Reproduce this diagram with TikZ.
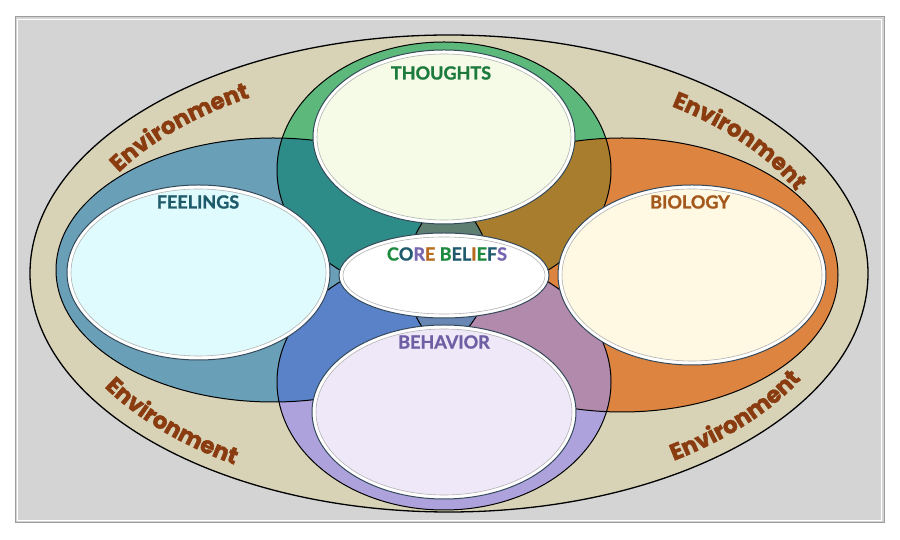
\documentclass[tikz,border=0pt]{standalone}
\usepackage{fontspec}
\usetikzlibrary{decorations.text}
\newfontfamily\labfont{Lato}[BoldFeatures={FakeBold=1.2}]
\newfontfamily\envfont{Poppins}[BoldFeatures={FakeBold=2}]
\definecolor{framefill}{HTML}{D4D4D4}
\definecolor{frameline}{HTML}{9C9C9C}
\definecolor{tan}{HTML}{D8D3B6}
\definecolor{cgreen}{HTML}{5DB97B}
\definecolor{csteel}{HTML}{6A9FB8}
\definecolor{corange}{HTML}{DC8440}
\definecolor{clav}{HTML}{AEA2DC}
\definecolor{cteal}{HTML}{2E8C88}
\definecolor{cbrown}{HTML}{A87D2E}
\definecolor{cblue}{HTML}{5A82C9}
\definecolor{cmauve}{HTML}{B18AAC}
\definecolor{ctop}{HTML}{5F7E72}
\definecolor{cbot}{HTML}{6887B5}
\definecolor{cmid}{HTML}{7D8E88}
\definecolor{innerline}{HTML}{34495A}
\definecolor{fthought}{HTML}{F5FBE6}
\definecolor{ffeel}{HTML}{E0FBFD}
\definecolor{fbio}{HTML}{FFF8E2}
\definecolor{fbeh}{HTML}{EFE8F8}
\definecolor{tthought}{HTML}{1B7A3C}
\definecolor{tfeel}{HTML}{1E5A6A}
\definecolor{tbio}{HTML}{A4581C}
\definecolor{tbeh}{HTML}{6D5FA3}
\definecolor{envc}{HTML}{8A3C10}
\definecolor{kg}{HTML}{1E8A3E}
\definecolor{kt}{HTML}{1F5A6E}
\definecolor{kp}{HTML}{7766B0}
\definecolor{ko}{HTML}{B86A1E}
\begin{document}
\begin{tikzpicture}[x=1pt,y=1pt,
  region/.style={draw=black, line width=1pt},
  innerout/.style={draw=innerline, line width=1pt, fill=white},
  innerin/.style={draw=black!30, line width=0.6pt},
  lab/.style={font=\labfont\bfseries\fontsize{18}{18}\selectfont, inner sep=0pt},
  envtext/.style={decorate, decoration={text along path, text align=center, text color=envc,
     text={|\envfont\bfseries\fontsize{23}{23}\selectfont|Environment}}}]
\useasboundingbox (0,0) rectangle (900,540);
\fill[white] (0,0) rectangle (900,540);
% frame
\draw[fill=framefill, draw=frameline, line width=1pt] (15,17) rectangle (884,523);
\draw[draw=white, line width=0.8pt] (17.5,19.5) rectangle (881.5,520.5);
% environment
\draw[region, line width=1.3pt, fill=tan] (449,266.5) ellipse [x radius=419pt, y radius=238.5pt];
% base regions
\fill[csteel] (273,270) ellipse [x radius=217pt, y radius=132pt];
\fill[corange] (622,265) ellipse [x radius=216pt, y radius=137pt];
\fill[cgreen] (444,370) ellipse [x radius=167pt, y radius=128pt];
\fill[clav] (444,158) ellipse [x radius=167pt, y radius=128pt];
% pairwise with feelings
\begin{scope}
  \clip (273,270) ellipse [x radius=217pt, y radius=132pt];
  \fill[cteal] (444,370) ellipse [x radius=167pt, y radius=128pt];
  \fill[cblue] (444,158) ellipse [x radius=167pt, y radius=128pt];
  \fill[cmid] (622,265) ellipse [x radius=216pt, y radius=137pt];
\end{scope}
\begin{scope}
  \clip (622,265) ellipse [x radius=216pt, y radius=137pt];
  \begin{scope}
    \clip (444,370) ellipse [x radius=167pt, y radius=128pt];
    \fill[cbrown] (0,0) rectangle (900,540);
  \end{scope}
  \begin{scope}
    \clip (444,158) ellipse [x radius=167pt, y radius=128pt];
    \fill[cmauve] (0,0) rectangle (900,540);
  \end{scope}
\end{scope}
% triple
\begin{scope}
  \clip (273,270) ellipse [x radius=217pt, y radius=132pt];
  \clip (622,265) ellipse [x radius=216pt, y radius=137pt];
  \fill[ctop] (444,370) ellipse [x radius=167pt, y radius=128pt];
  \fill[cbot] (444,158) ellipse [x radius=167pt, y radius=128pt];
\end{scope}
% outlines
\draw[region] (273,270) ellipse [x radius=217pt, y radius=132pt];
\draw[region] (622,265) ellipse [x radius=216pt, y radius=137pt];
\draw[region] (444,370) ellipse [x radius=167pt, y radius=128pt];
\draw[region] (444,158) ellipse [x radius=167pt, y radius=128pt];
% inner ellipses
\draw[innerout] (444,403) ellipse [x radius=131pt, y radius=87pt];
\draw[innerin, fill=fthought] (444,403) ellipse [x radius=127pt, y radius=83pt];
\draw[innerout] (198.5,267.5) ellipse [x radius=131.5pt, y radius=87.5pt];
\draw[innerin, fill=ffeel] (198.5,267.5) ellipse [x radius=127.5pt, y radius=83.5pt];
\draw[innerout] (692,265) ellipse [x radius=134pt, y radius=90pt];
\draw[innerin, fill=fbio] (692,265) ellipse [x radius=130pt, y radius=86pt];
\draw[innerout] (444,128) ellipse [x radius=132pt, y radius=87pt];
\draw[innerin, fill=fbeh] (444,128) ellipse [x radius=128pt, y radius=83pt];
\draw[innerout] (444,264.5) ellipse [x radius=105pt, y radius=42.5pt];
\draw[innerin, fill=white] (444,264.5) ellipse [x radius=101pt, y radius=38.5pt];
% labels
\node[lab, text=tthought] (thoughts) at (441,467) {THOUGHTS};
\node[lab, text=tfeel] (feelings) at (198,338) {FEELINGS};
\node[lab, text=tbio] (biology) at (690,338) {BIOLOGY};
\node[lab, text=tbeh] (behavior) at (444,198) {BEHAVIOR};
\node[lab] (core) at (447,286) {\textcolor{kg}{C}\textcolor{kt}{O}\textcolor{kp}{R}\textcolor{ko}{E} \textcolor{kg}{B}\textcolor{kt}{E}\textcolor{kt}{L}\textcolor{ko}{I}\textcolor{kg}{E}\textcolor{kt}{F}\textcolor{kp}{S}};
% environment texts
\path[envtext] (449,266.5) ++(162:378 and 207) arc[start angle=162, end angle=114, x radius=378pt, y radius=207pt];
\path[envtext] (449,266.5) ++(61:378 and 207) arc[start angle=61, end angle=13, x radius=378pt, y radius=207pt];
\path[envtext] (449,266.5) ++(198:398 and 227) arc[start angle=198, end angle=246, x radius=398pt, y radius=227pt];
\path[envtext] (449,266.5) ++(296:398 and 227) arc[start angle=296, end angle=344, x radius=398pt, y radius=227pt];
\end{tikzpicture}
\end{document}
